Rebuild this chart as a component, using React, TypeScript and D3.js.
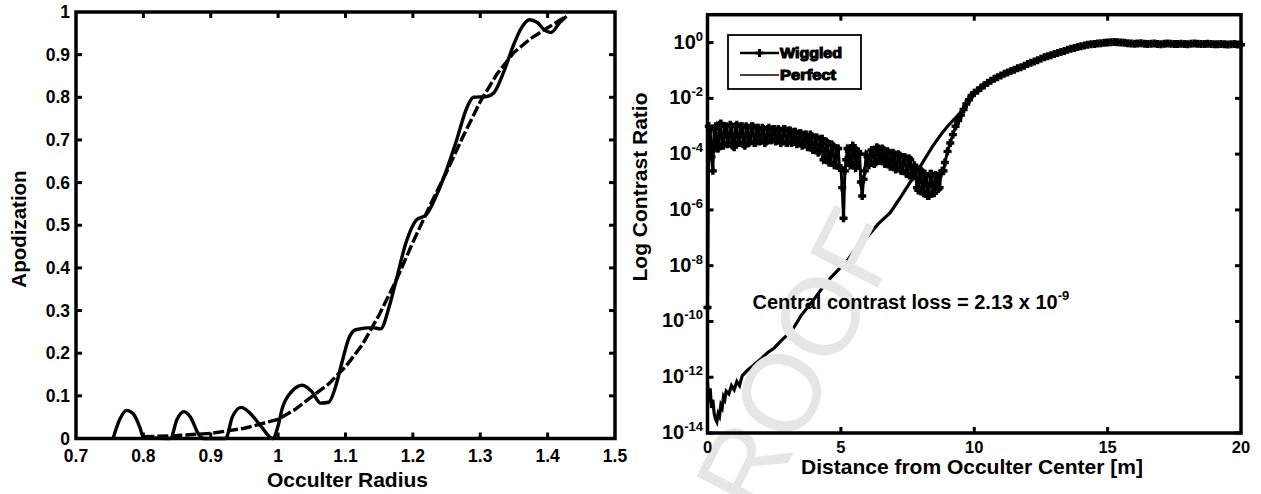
import React, { useEffect, useRef } from 'react';
import * as d3 from 'd3';

const W = 1261;
const H = 494;
const FONT = "'Liberation Sans', Arial, Helvetica, sans-serif";

// ---- left panel: apodization profile, [radius, apodization] ----
const perfectApod: [number, number][] = [
  [0.80, 0.004], [0.85, 0.007], [0.90, 0.012], [0.95, 0.024], [1.00, 0.045],
  [1.025, 0.068], [1.05, 0.098], [1.075, 0.128], [1.10, 0.168], [1.125, 0.22],
  [1.15, 0.29], [1.175, 0.37], [1.20, 0.46], [1.225, 0.545], [1.25, 0.625],
  [1.275, 0.71], [1.30, 0.79], [1.325, 0.855], [1.35, 0.905], [1.375, 0.938],
  [1.40, 0.963], [1.428, 0.99],
];
const wiggledApod: [number, number][] = [
  [0.755, 0], [0.765, 0.045], [0.775, 0.066], [0.785, 0.058], [0.795, 0.025], [0.80, 0.003],
  [0.84, 0], [0.85, 0.045], [0.86, 0.063], [0.87, 0.05], [0.882, 0.01], [0.89, 0],
  [0.922, 0], [0.932, 0.05], [0.945, 0.073], [0.958, 0.06], [0.975, 0.028], [0.992, 0],
  [1.0, 0.03], [1.006, 0.07], [1.02, 0.11], [1.036, 0.125], [1.05, 0.11], [1.063, 0.083],
  [1.075, 0.085], [1.085, 0.12], [1.095, 0.18], [1.105, 0.235], [1.115, 0.255],
  [1.14, 0.26], [1.152, 0.257], [1.165, 0.31], [1.175, 0.37], [1.19, 0.46],
  [1.205, 0.512], [1.22, 0.525], [1.235, 0.57], [1.25, 0.63], [1.265, 0.7],
  [1.28, 0.775], [1.29, 0.8], [1.31, 0.802], [1.32, 0.81], [1.335, 0.86],
  [1.35, 0.925], [1.362, 0.965], [1.373, 0.982], [1.385, 0.975], [1.395, 0.958],
  [1.405, 0.952], [1.418, 0.975], [1.428, 0.99],
];
const radiusTicks = [0.7, 0.8, 0.9, 1, 1.1, 1.2, 1.3, 1.4, 1.5];
const apodTicks = [0, 0.1, 0.2, 0.3, 0.4, 0.5, 0.6, 0.7, 0.8, 0.9, 1];

// ---- right panel: log10 contrast vs distance [m] ----
const perfectContrast: [number, number][] = [
  [0, -12.2], [0.05, -12.9], [0.1, -12.4], [0.15, -13.1], [0.2, -12.8], [0.25, -13.3],
  [0.3, -13.5], [0.35, -13.6], [0.4, -13.3], [0.45, -13.4], [0.5, -13.0], [0.55, -13.1],
  [0.6, -12.7], [0.65, -12.8], [0.7, -12.5], [0.8, -12.6], [0.9, -12.3], [1.0, -12.45],
  [1.1, -12.15], [1.2, -12.3], [1.3, -11.95], [1.5, -11.75], [1.75, -11.55], [2.0, -11.35],
  [2.25, -11.12], [2.5, -10.95], [2.8, -10.65], [3.15, -10.35], [3.5, -9.8], [4.0, -9.2],
  [4.3, -8.8], [4.65, -8.4], [5.0, -8.05], [5.25, -7.8], [5.6, -7.35], [6.0, -6.95],
  [6.4, -6.5], [6.85, -6.1], [7.2, -5.6], [7.6, -5.0], [8.0, -4.4], [8.45, -3.7],
  [8.75, -3.3], [9.0, -3.0], [9.45, -2.55], [9.85, -2.05], [10.0, -1.85], [10.33, -1.5],
  [10.75, -1.3], [11.0, -1.18], [11.6, -0.93], [12.0, -0.76], [12.4, -0.6], [12.85, -0.45],
  [13.25, -0.33], [13.6, -0.22], [14.1, -0.1], [14.6, -0.03], [15.3, 0.01], [16, -0.02],
  [17, -0.04], [18, -0.05], [19, -0.06], [20, -0.07],
];
const wiggledContrast: [number, number][] = [
  [0.0, -9.5], [0.05, -3.0], [0.1, -3.1], [0.15, -4.1], [0.2, -4.6], [0.25, -3.1],
  [0.3, -3.0], [0.35, -3.8], [0.4, -3.8], [0.45, -2.95], [0.5, -2.9], [0.55, -3.65],
  [0.6, -3.7], [0.65, -3.0], [0.7, -3.0], [0.75, -3.65], [0.8, -3.6], [0.85, -2.95],
  [0.9, -3.0], [0.95, -3.7], [1.0, -3.75], [1.05, -3.0], [1.1, -2.95], [1.15, -3.6],
  [1.2, -3.6], [1.25, -3.0], [1.3, -3.0], [1.35, -3.65], [1.4, -3.7], [1.45, -3.0],
  [1.5, -3.05], [1.55, -3.6], [1.6, -3.55], [1.65, -3.0], [1.7, -3.0], [1.75, -3.6],
  [1.8, -3.6], [1.85, -3.05], [1.9, -3.05], [1.95, -3.55], [2.0, -3.5], [2.05, -3.05],
  [2.1, -3.1], [2.15, -3.6], [2.2, -3.55], [2.25, -3.1], [2.3, -3.05], [2.35, -3.5],
  [2.4, -3.5], [2.45, -3.1], [2.5, -3.1], [2.55, -3.55], [2.6, -3.5], [2.65, -3.1],
  [2.7, -3.15], [2.75, -3.6], [2.8, -3.55], [2.85, -3.1], [2.9, -3.1], [2.95, -3.6],
  [3.0, -3.6], [3.05, -3.15], [3.1, -3.15], [3.15, -3.6], [3.2, -3.55], [3.25, -3.2],
  [3.3, -3.2], [3.35, -3.65], [3.4, -3.6], [3.45, -3.25], [3.5, -3.25], [3.55, -3.7],
  [3.6, -3.65], [3.65, -3.3], [3.7, -3.3], [3.75, -3.75], [3.8, -3.7], [3.85, -3.3],
  [3.9, -3.35], [3.95, -3.85], [4.0, -3.8], [4.05, -3.4], [4.1, -3.4], [4.15, -3.95],
  [4.2, -3.9], [4.25, -3.45], [4.3, -3.45], [4.35, -4.2], [4.4, -4.1], [4.45, -3.55],
  [4.5, -3.6], [4.55, -4.3], [4.6, -4.3], [4.65, -3.65], [4.7, -3.7], [4.75, -4.4],
  [4.8, -4.4], [4.85, -3.8], [4.9, -3.8], [4.95, -4.5], [5.0, -4.5], [5.05, -5.2],
  [5.1, -6.3], [5.15, -4.6], [5.2, -4.2], [5.25, -3.8], [5.3, -3.9], [5.35, -4.4],
  [5.4, -4.3], [5.45, -3.7], [5.5, -3.8], [5.55, -4.5], [5.6, -4.4], [5.65, -3.9],
  [5.7, -4.0], [5.75, -5.0], [5.8, -5.5], [5.85, -4.9], [5.9, -4.6], [5.95, -4.0],
  [6.0, -4.1], [6.05, -4.4], [6.1, -4.3], [6.15, -3.85], [6.2, -3.9], [6.25, -4.35],
  [6.3, -4.3], [6.35, -3.75], [6.4, -3.8], [6.45, -4.25], [6.5, -4.2], [6.55, -3.8],
  [6.6, -3.85], [6.65, -4.35], [6.7, -4.3], [6.75, -3.9], [6.8, -3.95], [6.85, -4.45],
  [6.9, -4.4], [6.95, -3.95], [7.0, -4.0], [7.05, -4.55], [7.1, -4.5], [7.15, -4.0],
  [7.2, -4.05], [7.25, -4.6], [7.3, -4.6], [7.35, -4.1], [7.4, -4.1], [7.45, -4.7],
  [7.5, -4.7], [7.55, -4.15], [7.6, -4.2], [7.65, -4.85], [7.7, -4.8], [7.75, -4.4],
  [7.8, -4.5], [7.85, -5.2], [7.9, -5.3], [7.95, -4.55], [8.0, -4.6], [8.05, -5.35],
  [8.1, -5.4], [8.15, -4.7], [8.2, -4.8], [8.25, -5.5], [8.3, -5.5], [8.35, -4.7],
  [8.4, -4.7], [8.45, -5.4], [8.5, -5.4], [8.55, -4.75], [8.6, -4.8], [8.65, -5.25],
  [8.7, -5.2], [8.75, -4.7], [8.8, -4.6], [8.85, -4.6], [8.9, -4.3],
  [9.0, -3.9], [9.1, -3.6], [9.2, -3.3], [9.3, -3.0], [9.4, -2.8], [9.5, -2.6],
  [9.6, -2.4], [9.7, -2.2], [9.8, -2.05], [9.9, -1.9], [10.0, -1.8],
  [10.125, -1.72], [10.25, -1.62], [10.375, -1.53], [10.5, -1.44], [10.625, -1.37],
  [10.75, -1.3], [10.875, -1.24], [11.0, -1.18], [11.125, -1.12], [11.25, -1.07],
  [11.375, -1.02], [11.5, -0.97], [11.625, -0.92], [11.75, -0.88], [11.875, -0.83],
  [12.0, -0.77], [12.125, -0.72], [12.25, -0.68], [12.375, -0.63], [12.5, -0.58],
  [12.625, -0.53], [12.75, -0.49], [12.875, -0.45], [13.0, -0.41], [13.125, -0.37],
  [13.25, -0.34], [13.375, -0.3], [13.5, -0.26], [13.625, -0.22], [13.75, -0.19],
  [13.875, -0.16], [14.0, -0.13], [14.125, -0.1], [14.25, -0.08], [14.375, -0.06],
  [14.5, -0.05], [14.625, -0.03], [14.75, -0.02], [14.875, -0.01], [15.0, 0.0],
  [15.125, 0.01], [15.25, 0.02], [15.375, 0.01], [15.5, 0.0], [15.625, -0.01],
  [15.75, -0.02], [15.875, -0.03], [16.0, -0.04], [16.125, -0.03], [16.25, -0.02],
  [16.375, -0.04], [16.5, -0.05], [16.625, -0.04], [16.75, -0.03], [16.875, -0.05],
  [17.0, -0.06], [17.125, -0.04], [17.25, -0.03], [17.375, -0.04], [17.5, -0.05],
  [17.625, -0.05], [17.75, -0.04], [17.875, -0.05], [18.0, -0.06], [18.125, -0.04],
  [18.25, -0.03], [18.375, -0.04], [18.5, -0.05], [18.625, -0.05], [18.75, -0.04],
  [18.875, -0.05], [19.0, -0.06], [19.125, -0.06], [19.25, -0.05], [19.375, -0.06],
  [19.5, -0.07], [19.625, -0.06], [19.75, -0.05], [19.875, -0.07], [20.0, -0.08],
];
const distTicks = [0, 5, 10, 15, 20];
const contrastExps = [0, -2, -4, -6, -8, -10, -12, -14];
const legendNames = ['Wiggled', 'Perfect'];

const plus = 'M-4,0H4M0,-4V4';

type Sel = d3.Selection<SVGGElement, unknown, null, undefined>;

function frame(g: Sel, x0: number, x1: number, y0: number, y1: number) {
  g.append('rect')
    .attr('x', x0).attr('y', y0)
    .attr('width', x1 - x0).attr('height', y1 - y0)
    .attr('fill', 'none').attr('stroke', '#000').attr('stroke-width', 3.5);
}

function drawApodization(lines: Sel, axes: Sel) {
  const m = { left: 76, right: 615, top: 12, bottom: 438.5 };
  const x = d3.scaleLinear().domain([0.7, 1.5]).range([m.left, m.right]);
  const y = d3.scaleLinear().domain([0, 1]).range([m.bottom, m.top]);
  const line = d3.line<[number, number]>().x(d => x(d[0])).y(d => y(d[1]));

  lines.append('path').datum(perfectApod)
    .attr('d', line).attr('fill', 'none').attr('stroke', '#000')
    .attr('stroke-width', 3.4).attr('stroke-dasharray', '11,3');
  lines.append('path').datum(wiggledApod)
    .attr('d', line.curve(d3.curveMonotoneX))
    .attr('fill', 'none').attr('stroke', '#000')
    .attr('stroke-width', 3.4).attr('stroke-linejoin', 'round');

  frame(axes, m.left, m.right, m.top, m.bottom);
  radiusTicks.slice(1, -1).forEach(t => {
    axes.append('line').attr('x1', x(t)).attr('x2', x(t)).attr('y1', m.bottom).attr('y2', m.bottom - 6)
      .attr('stroke', '#000').attr('stroke-width', 3);
    axes.append('line').attr('x1', x(t)).attr('x2', x(t)).attr('y1', m.top).attr('y2', m.top + 6)
      .attr('stroke', '#000').attr('stroke-width', 3);
  });
  apodTicks.slice(1, -1).forEach(t => {
    axes.append('line').attr('x1', m.left).attr('x2', m.left + 6).attr('y1', y(t)).attr('y2', y(t))
      .attr('stroke', '#000').attr('stroke-width', 3);
    axes.append('line').attr('x1', m.right).attr('x2', m.right - 6).attr('y1', y(t)).attr('y2', y(t))
      .attr('stroke', '#000').attr('stroke-width', 3);
  });
  const fmt = d3.format('~g');
  axes.selectAll('text.xt').data(radiusTicks).enter().append('text')
    .attr('x', d => x(d)).attr('y', 461.5).attr('text-anchor', 'middle')
    .attr('font-size', 17.5).attr('font-weight', 'bold').text(d => fmt(d));
  axes.selectAll('text.yt').data(apodTicks).enter().append('text')
    .attr('x', 70).attr('y', d => y(d) + 6).attr('text-anchor', 'end')
    .attr('font-size', 17.5).attr('font-weight', 'bold').text(d => fmt(d));
  axes.append('text').attr('x', (m.left + m.right) / 2 + 2).attr('y', 487)
    .attr('text-anchor', 'middle').attr('font-size', 21).attr('font-weight', 'bold')
    .text('Occulter Radius');
  axes.append('text').attr('transform', 'translate(26,229) rotate(-90)')
    .attr('text-anchor', 'middle').attr('font-size', 20.5).attr('font-weight', 'bold')
    .text('Apodization');
}

function drawContrast(lines: Sel, axes: Sel) {
  const m = { left: 707.5, right: 1241, top: 14.7, bottom: 433 };
  const x = d3.scaleLinear().domain([0, 20]).range([m.left, m.right]);
  const y = d3.scaleLog().domain([1e-14, 10]).range([m.bottom, m.top]);
  const line = d3.line<[number, number]>().x(d => x(d[0])).y(d => y(Math.pow(10, d[1])));

  lines.append('path').datum(perfectContrast)
    .attr('d', line).attr('fill', 'none').attr('stroke', '#000').attr('stroke-width', 3.2);
  lines.append('path').datum(wiggledContrast)
    .attr('d', line).attr('fill', 'none').attr('stroke', '#000').attr('stroke-width', 3);
  lines.selectAll('path.mk').data(wiggledContrast).enter().append('path')
    .attr('transform', d => `translate(${x(d[0])},${y(Math.pow(10, d[1]))})`)
    .attr('d', plus).attr('stroke', '#000').attr('stroke-width', 3.4).attr('fill', 'none');

  frame(axes, m.left, m.right, m.top, m.bottom);
  distTicks.slice(1, -1).forEach(t => {
    axes.append('line').attr('x1', x(t)).attr('x2', x(t)).attr('y1', m.bottom).attr('y2', m.bottom - 6)
      .attr('stroke', '#000').attr('stroke-width', 3);
    axes.append('line').attr('x1', x(t)).attr('x2', x(t)).attr('y1', m.top).attr('y2', m.top + 6)
      .attr('stroke', '#000').attr('stroke-width', 3);
  });
  contrastExps.forEach(e => {
    const yy = y(Math.pow(10, e));
    axes.append('line').attr('x1', m.left).attr('x2', m.left + 6).attr('y1', yy).attr('y2', yy)
      .attr('stroke', '#000').attr('stroke-width', 3);
    axes.append('line').attr('x1', m.right).attr('x2', m.right - 6).attr('y1', yy).attr('y2', yy)
      .attr('stroke', '#000').attr('stroke-width', 3);
    const t = axes.append('text').attr('x', 703).attr('y', yy + 6)
      .attr('text-anchor', 'end').attr('font-size', 20).attr('font-weight', 'bold');
    t.append('tspan').text('10');
    t.append('tspan').attr('dy', -8).attr('font-size', 13).text(String(e));
  });
  axes.selectAll('text.xt').data(distTicks).enter().append('text')
    .attr('x', d => x(d)).attr('y', 452.5).attr('text-anchor', 'middle')
    .attr('font-size', 16.5).attr('font-weight', 'bold').text(d => String(d));
  axes.append('text').attr('x', 972).attr('y', 474)
    .attr('text-anchor', 'middle').attr('font-size', 21).attr('font-weight', 'bold')
    .text('Distance from Occulter Center [m]');
  axes.append('text').attr('transform', 'translate(647,187) rotate(-90)')
    .attr('text-anchor', 'middle').attr('font-size', 21).attr('font-weight', 'bold')
    .text('Log Contrast Ratio');

  const note = axes.append('text').attr('x', 752.5).attr('y', 309)
    .attr('font-size', 20).attr('font-weight', 'bold');
  note.append('tspan').text('Central contrast loss = 2.13 x 10');
  note.append('tspan').attr('dy', -9).attr('font-size', 13).text('-9');

  // legend
  const lg = axes.append('g');
  lg.append('rect').attr('x', 728).attr('y', 35).attr('width', 133).attr('height', 54)
    .attr('fill', '#fff').attr('stroke', '#000').attr('stroke-width', 1.8);
  legendNames.forEach((name, i) => {
    const ly = 53 + i * 22;
    lg.append('line').attr('x1', 740).attr('x2', 779).attr('y1', ly).attr('y2', ly)
      .attr('stroke', '#000').attr('stroke-width', i === 0 ? 2.4 : 1.6);
    if (i === 0) {
      lg.append('path').attr('transform', `translate(759.5,${ly})`).attr('d', plus)
        .attr('stroke', '#000').attr('stroke-width', 3);
    }
    lg.append('text').attr('x', 780).attr('y', ly + 5)
      .attr('font-size', 14).attr('font-weight', 900)
      .attr('stroke', '#000').attr('stroke-width', 1.1)
      .attr('textLength', i === 0 ? 62 : 56).attr('lengthAdjust', 'spacingAndGlyphs')
      .text(name);
  });
}

export default function App() {
  const ref = useRef<SVGSVGElement>(null);

  useEffect(() => {
    const svg = d3.select(ref.current);
    svg.selectAll('*').remove();
    svg.append('rect').attr('width', W).attr('height', H).attr('fill', '#fff');
    const root = svg.append('g').attr('font-family', FONT).attr('fill', '#000');
    const lines = root.append('g');
    const mark = root.append('g');
    const axes = root.append('g');
    drawApodization(lines as unknown as Sel, axes as unknown as Sel);
    drawContrast(lines as unknown as Sel, axes as unknown as Sel);

    // proof watermark, sits over the curves
    mark.append('text')
      .attr('transform', 'translate(780,392) rotate(-63)')
      .attr('text-anchor', 'middle').attr('dy', '0.36em')
      .attr('font-family', FONT).attr('font-size', 110)
      .attr('fill', '#e6e6e6').text('PROOF');
  }, []);

  return (
    <svg
      ref={ref}
      width={W}
      height={H}
      style={{ position: 'absolute', left: 0, top: 0, display: 'block' }}
    />
  );
}
